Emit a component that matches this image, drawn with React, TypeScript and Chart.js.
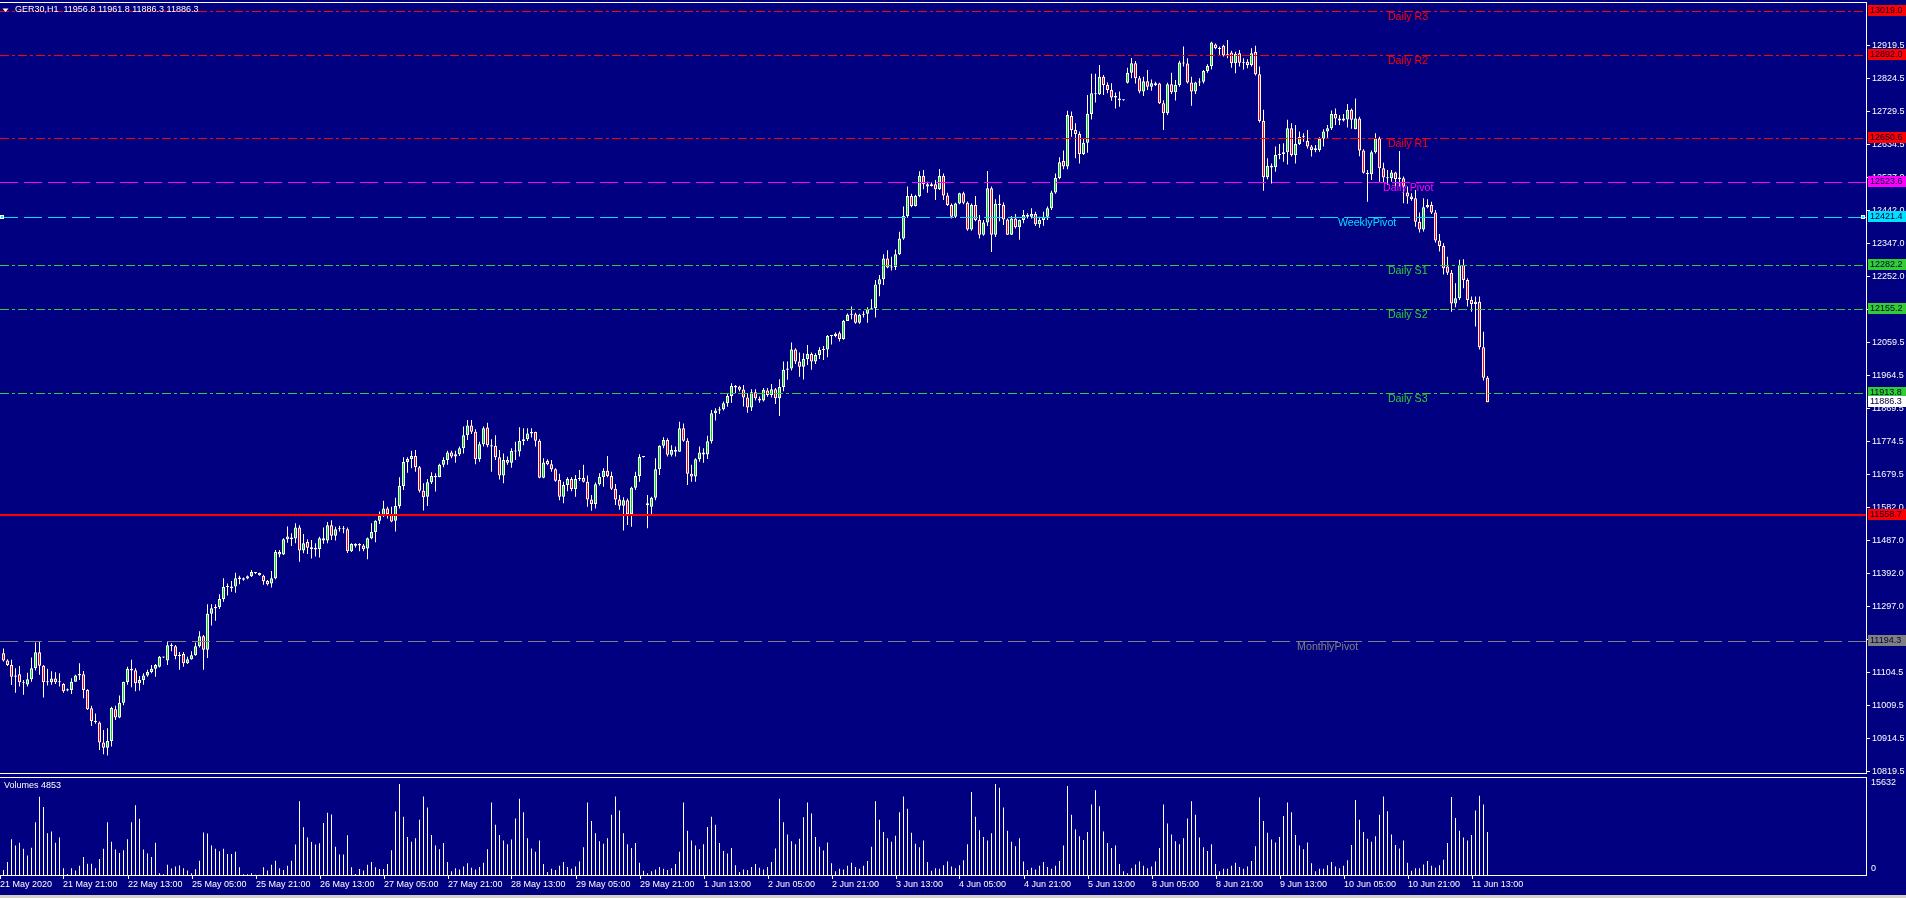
import React, { useEffect, useRef } from "react";
import { Chart, registerables } from "chart.js";

Chart.register(...registerables);

const titleText = "GER30,H1  11956.8 11961.8 11886.3 11886.3";
const volumeTitle = "Volumes 4853";
const volumeMaxLabel = "15632";

const opens: number[] = [
  11160,11139,11126,11092,11099,11076,11070,11085,11117,11163,
  11124,11076,11076,11087,11076,11071,11052,11054,11078,11096,
  11099,11054,11001,10964,10960,10902,10887,10906,10998,10974,
  11017,11077,11115,11111,11073,11083,11096,11106,11115,11121,
  11150,11139,11183,11180,11152,11158,11131,11143,11154,11180,
  11209,11170,11274,11290,11294,11317,11352,11348,11353,11375,
  11373,11376,11383,11395,11392,11384,11369,11362,11377,11453,
  11446,11490,11495,11492,11524,11457,11482,11467,11465,11462,
  11486,11486,11530,11500,11519,11519,11519,11455,11471,11476,
  11472,11463,11493,11511,11543,11558,11579,11563,11543,11586,
  11644,11713,11722,11731,11698,11630,11613,11655,11673,11670,
  11705,11719,11741,11729,11736,11753,11791,11819,11801,11721,
  11765,11813,11762,11760,11727,11674,11719,11711,11745,11744,
  11774,11779,11796,11800,11775,11668,11716,11707,11692,11661,
  11613,11647,11664,11635,11664,11667,11656,11605,11592,11649,
  11670,11688,11673,11636,11605,11587,11603,11562,11639,11673,
  11728,11594,11584,11610,11692,11760,11777,11734,11748,11743,
  11811,11775,11679,11671,11721,11741,11735,11773,11854,11862,
  11866,11883,11904,11933,11931,11923,11900,11871,11915,11896,
  11891,11920,11907,11924,11898,11930,11980,11984,12039,12004,
  11989,12011,12026,12004,12023,12037,12039,12078,12078,12086,
  12069,12121,12139,12141,12116,12139,12142,12155,12158,12227,
  12242,12302,12276,12277,12314,12360,12425,12483,12454,12483,
  12541,12517,12512,12517,12502,12541,12484,12457,12423,12461,
  12491,12463,12386,12457,12413,12371,12406,12505,12371,12460,
  12457,12415,12371,12418,12392,12413,12428,12423,12431,12401,
  12413,12423,12447,12493,12535,12584,12568,12714,12674,12662,
  12604,12637,12720,12780,12777,12828,12804,12789,12768,12765,
  12760,12810,12839,12867,12823,12785,12815,12799,12809,12808,
  12751,12722,12806,12783,12804,12869,12866,12811,12785,12811,
  12813,12844,12859,12921,12910,12917,12889,12898,12867,12896,
  12868,12871,12862,12899,12835,12700,12537,12570,12566,12601,
  12604,12609,12679,12601,12633,12654,12642,12626,12616,12616,
  12648,12669,12679,12720,12707,12701,12704,12732,12676,12707,
  12614,12550,12546,12609,12650,12563,12536,12534,12551,12532,
  12534,12493,12481,12476,12408,12386,12450,12457,12435,12354,
  12338,12279,12261,12172,12187,12283,12240,12182,12170,12177,
  12045,11956.8,
];

const highs: number[] = [
  11174,11143,11141,11117,11123,11083,11104,11148,11191,11194,
  11126,11115,11108,11105,11102,11073,11058,11088,11098,11131,
  11109,11056,11008,10986,10963,10938,10943,11005,11008,11038,
  11078,11121,11141,11117,11094,11102,11112,11126,11129,11152,
  11150,11194,11189,11184,11164,11164,11150,11166,11191,11224,
  11213,11302,11302,11302,11331,11377,11362,11369,11393,11384,
  11379,11385,11401,11395,11393,11387,11372,11398,11459,11459,
  11493,11527,11507,11536,11530,11505,11490,11488,11478,11497,
  11524,11540,11545,11526,11529,11528,11524,11478,11478,11478,
  11476,11495,11536,11545,11570,11601,11584,11584,11610,11669,
  11727,11727,11746,11748,11702,11652,11664,11684,11681,11708,
  11727,11746,11746,11746,11758,11816,11835,11835,11808,11772,
  11816,11827,11779,11791,11748,11738,11729,11753,11772,11814,
  11811,11811,11811,11801,11779,11724,11721,11719,11695,11679,
  11656,11669,11669,11676,11690,11705,11674,11618,11654,11681,
  11695,11731,11685,11650,11618,11611,11608,11642,11685,11736,
  11730,11618,11613,11724,11762,11785,11782,11762,11758,11830,
  11825,11782,11705,11724,11758,11753,11789,11864,11869,11873,
  11888,11910,11941,11936,11934,11936,11912,11924,11924,11903,
  11927,11927,11939,11927,11953,12004,12004,12059,12042,12030,
  12028,12052,12030,12028,12045,12049,12081,12081,12088,12091,
  12124,12143,12163,12145,12142,12149,12161,12184,12240,12254,
  12314,12326,12307,12328,12379,12452,12510,12489,12486,12554,
  12558,12524,12522,12529,12561,12548,12492,12461,12463,12492,
  12495,12467,12461,12483,12428,12413,12555,12510,12473,12486,
  12464,12418,12425,12431,12415,12442,12433,12447,12437,12423,
  12437,12452,12498,12548,12595,12614,12729,12727,12693,12669,
  12650,12775,12836,12836,12862,12833,12811,12809,12782,12785,
  12762,12854,12882,12873,12830,12828,12847,12820,12813,12810,
  12760,12810,12839,12818,12874,12915,12881,12828,12813,12823,
  12847,12864,12929,12924,12915,12920,12934,12903,12900,12905,
  12881,12878,12910,12917,12857,12732,12592,12577,12626,12633,
  12635,12703,12693,12688,12669,12664,12674,12630,12630,12653,
  12676,12688,12730,12736,12717,12720,12749,12736,12765,12712,
  12618,12558,12614,12664,12654,12579,12558,12558,12553,12613,
  12539,12510,12491,12500,12435,12476,12473,12466,12442,12373,
  12346,12307,12269,12230,12298,12300,12245,12192,12192,12192,
  12090,11961.8,
];

const lows: number[] = [
  11136,11123,11068,11046,11064,11040,11064,11078,11110,11098,
  11032,11067,11069,11071,11064,11046,11050,11042,11078,11083,
  11030,10996,10950,10956,10880,10868,10864,10890,10967,10972,
  11010,11069,11062,11050,11052,11069,11092,11102,11092,11119,
  11146,11126,11166,11143,11112,11121,11129,11141,11153,11177,
  11112,11146,11240,11254,11288,11309,11327,11338,11335,11360,
  11370,11374,11381,11389,11384,11358,11356,11350,11374,11438,
  11444,11480,11470,11478,11425,11449,11447,11434,11440,11437,
  11477,11478,11488,11486,11512,11507,11450,11453,11466,11455,
  11455,11432,11490,11481,11534,11554,11550,11539,11512,11579,
  11632,11682,11695,11685,11625,11573,11586,11650,11628,11669,
  11698,11705,11724,11711,11731,11738,11777,11794,11707,11714,
  11758,11756,11685,11719,11663,11652,11705,11697,11719,11729,
  11762,11774,11784,11758,11666,11666,11704,11685,11656,11603,
  11594,11629,11629,11613,11658,11654,11584,11572,11579,11645,
  11642,11669,11632,11589,11575,11515,11531,11526,11632,11656,
  11726,11522,11562,11603,11676,11753,11729,11729,11729,11743,
  11772,11647,11656,11656,11714,11711,11722,11767,11833,11852,
  11862,11873,11885,11912,11917,11874,11856,11861,11891,11885,
  11888,11902,11900,11881,11846,11918,11951,11978,11997,11960,
  11952,11994,11980,11997,12011,12008,12016,12053,12074,12062,
  12067,12121,12126,12113,12113,12131,12116,12153,12131,12193,
  12225,12274,12267,12269,12312,12356,12420,12450,12452,12479,
  12502,12492,12510,12471,12500,12471,12454,12418,12419,12459,
  12459,12382,12382,12410,12360,12368,12396,12321,12364,12410,
  12399,12370,12370,12389,12356,12404,12418,12418,12396,12391,
  12397,12413,12442,12489,12531,12560,12560,12654,12592,12577,
  12601,12608,12704,12753,12775,12775,12780,12758,12736,12741,
  12758,12808,12823,12808,12780,12772,12789,12787,12801,12749,
  12674,12717,12778,12759,12799,12857,12808,12744,12778,12801,
  12808,12839,12849,12907,12891,12886,12881,12854,12838,12857,
  12849,12852,12857,12831,12695,12498,12531,12519,12553,12589,
  12582,12574,12597,12577,12630,12640,12620,12597,12609,12611,
  12626,12651,12674,12688,12688,12698,12681,12677,12676,12598,
  12548,12466,12529,12606,12524,12521,12515,12524,12510,12510,
  12462,12460,12469,12394,12377,12380,12447,12431,12348,12322,
  12256,12254,12148,12161,12182,12216,12163,12148,12105,12039,
  11949,11886.3,
];

const closes: number[] = [
  11139,11126,11092,11096,11076,11073,11085,11117,11163,11124,
  11076,11078,11087,11076,11077,11050,11056,11078,11096,11100,
  11054,10998,10964,10961,10902,10887,10906,11002,10974,11017,
  11077,11115,11110,11073,11083,11096,11106,11115,11126,11150,
  11148,11183,11181,11152,11156,11131,11143,11154,11180,11209,
  11170,11274,11290,11294,11317,11352,11352,11353,11377,11379,
  11377,11383,11395,11392,11386,11368,11360,11377,11453,11446,
  11490,11498,11490,11524,11457,11478,11465,11462,11460,11493,
  11493,11530,11500,11519,11519,11519,11455,11476,11476,11472,
  11461,11493,11511,11543,11558,11579,11563,11541,11586,11644,
  11713,11722,11731,11698,11630,11611,11655,11673,11669,11705,
  11719,11741,11729,11736,11753,11791,11819,11801,11721,11765,
  11811,11762,11758,11727,11674,11719,11711,11745,11744,11774,
  11779,11796,11800,11775,11668,11712,11707,11692,11659,11613,
  11647,11664,11635,11664,11667,11656,11605,11592,11649,11670,
  11688,11673,11636,11605,11587,11603,11562,11639,11673,11728,
  11728,11588,11610,11692,11760,11777,11734,11748,11743,11811,
  11775,11679,11671,11721,11741,11735,11773,11854,11862,11866,
  11883,11904,11933,11929,11922,11900,11871,11915,11898,11891,
  11922,11907,11924,11898,11930,11980,11984,12039,12004,11989,
  12011,12026,12004,12023,12037,12039,12078,12080,12084,12069,
  12121,12139,12141,12116,12139,12142,12155,12158,12227,12242,
  12302,12276,12279,12314,12360,12425,12483,12454,12483,12541,
  12517,12510,12517,12502,12541,12484,12457,12423,12461,12491,
  12463,12386,12457,12413,12371,12406,12505,12371,12460,12457,
  12415,12371,12418,12392,12413,12428,12423,12431,12401,12413,
  12423,12447,12493,12535,12580,12568,12717,12674,12662,12604,
  12637,12720,12780,12777,12828,12804,12789,12768,12772,12760,
  12760,12839,12867,12823,12785,12815,12799,12809,12804,12751,
  12722,12806,12783,12804,12869,12866,12811,12785,12811,12813,
  12844,12859,12927,12910,12908,12889,12893,12867,12894,12868,
  12871,12862,12896,12835,12700,12537,12570,12565,12601,12604,
  12609,12679,12601,12633,12654,12656,12626,12616,12621,12648,
  12669,12679,12720,12707,12701,12707,12732,12703,12707,12614,
  12550,12546,12609,12650,12563,12536,12534,12551,12532,12536,
  12510,12481,12474,12408,12386,12450,12457,12435,12354,12338,
  12274,12261,12172,12187,12283,12240,12182,12170,12177,12045,
  11957,11886.3,
];

const volumes: number[] = [
  831,2105,5817,4820,5263,4266,3158,4432,8587,12742,
  11080,6814,7091,5263,6094,1108,166,1108,720,1496,
  2936,1828,1828,1108,2604,4266,8587,5429,4155,3601,
  4044,5817,8587,11357,9141,4155,3490,2936,5263,277,
  120,1662,1053,1385,1551,1108,720,277,942,2327,
  6925,6759,4820,4266,3878,4266,3435,3435,3767,1274,
  111,111,277,60,60,1274,720,1662,2327,1108,
  831,1496,2327,4986,12022,7756,6094,5374,4986,5152,
  8476,10138,9861,4598,3324,3324,6482,1274,166,997,
  720,1662,2105,1274,997,997,1773,4044,10360,14800,
  9500,6200,5400,6000,9000,12800,11000,6500,4800,4200,
  5200,2100,600,1100,
  900,1400,1900,1200,900,1300,2000,4200,11800,8200,
  6500,5600,5000,5800,9200,12400,10200,6000,4300,3800,
  5600,1800,500,1000,
  800,1500,2100,1300,1000,1400,2200,4500,11800,8800,
  6800,5500,5100,6000,9800,12800,10500,6800,5000,4400,
  5200,2000,700,300,
  600,900,1300,1000,800,1100,1800,3800,11800,7200,
  5600,4800,4200,5000,7800,9500,8200,5200,3900,3500,
  4400,1600,500,900,
  800,1300,1800,1200,900,1300,2100,4300,12400,8600,
  6600,5500,5000,5900,9400,11800,10000,6200,4600,4000,
  5300,1900,600,1000,
  900,1500,2000,1300,1000,1500,2300,4600,12000,9000,
  7000,6000,5400,6400,10200,12800,10800,6900,5100,4500,
  5600,2100,700,1100,
  1000,1600,2200,1400,1100,1600,2400,5000,13500,9500,
  7300,6200,5600,6800,14800,14200,11000,7200,5400,4700,
  6000,2200,800,1200,
  900,1500,2100,1300,1000,1500,2300,4800,14500,9800,
  7400,6300,5700,7000,11500,13800,11200,7100,5200,4400,
  4800,1800,600,300,
  1100,1700,2200,1500,1100,1400,2200,4400,11500,8400,
  6600,5500,5000,6000,9200,12000,9800,6100,4500,3900,
  5000,1800,600,1000,
  1000,1500,2000,1300,1000,1400,2300,4700,12600,8800,
  6900,5800,5300,6200,9600,11800,10200,6500,4800,4200,
  5300,1900,600,1000,
  1000,1600,2100,1400,1100,1500,2400,4900,12200,9000,
  7000,5900,5400,6300,9800,12800,10400,6600,4900,4300,
  5600,2000,700,1100,
  1100,1700,2300,1500,1200,1600,2500,5200,12700,9300,
  7200,6100,5600,6500,10500,12900,11500,7000,
];

const timeLabels: string[] = [
  "21 May 2020", "21 May 21:00", "22 May 13:00", "25 May 05:00", "25 May 21:00",
  "26 May 13:00", "27 May 05:00", "27 May 21:00", "28 May 13:00", "29 May 05:00",
  "29 May 21:00", "1 Jun 13:00", "2 Jun 05:00", "2 Jun 21:00", "3 Jun 13:00",
  "4 Jun 05:00", "4 Jun 21:00", "5 Jun 13:00", "8 Jun 05:00", "8 Jun 21:00",
  "9 Jun 13:00", "10 Jun 05:00", "10 Jun 21:00", "11 Jun 13:00",
];
const timeLabelBars: number[] = [
  -1, 15, 31, 47, 63, 79, 95, 111, 127, 143, 159, 175, 191, 207, 223, 239,
  255, 271, 287, 303, 319, 335, 351, 367,
];

const priceTicks: number[] = [
  12919.5, 12824.5, 12729.5, 12634.5, 12537.0, 12442.0, 12347.0, 12252.0,
  12157.0, 12059.5, 11964.5, 11869.5, 11774.5, 11679.5, 11582.0, 11487.0,
  11392.0, 11297.0, 11202.0, 11104.5, 11009.5, 10914.5, 10819.5,
];

const levelNames: string[] = [
  "Daily R3", "Daily R2", "Daily R1", "Daily Pivot", "WeeklyPivot",
  "Daily S1", "Daily S2", "Daily S3", "", "MonthlyPivot",
];
const levelValues: number[] = [
  13019.0, 12892.0, 12650.6, 12523.6, 12421.4, 12282.2, 12155.2, 11913.8, 11558.7, 11194.3,
];
const levelColors: string[] = [
  "#ff0000", "#ff0000", "#ff0000", "#ff00ff", "#00e0ff",
  "#32cd32", "#32cd32", "#32cd32", "#ff0000", "#808080",
];
const levelStyles: string[] = [
  "dashdot", "dashdot", "dashdot", "dash", "dash",
  "dashdot", "dashdot", "dashdot", "solid", "dash",
];
const levelWidths: number[] = [1, 1, 1, 1, 1, 1, 1, 1, 2, 1];
const levelLabelBars: (number | null)[] = [
  346.1, 346.1, 346.1, 344.9, 333.6, 346.1, 346.1, 346.1, null, 323.4,
];
const lastPrice = 11886.3;

const BG = "#000080";
const BULL = "#00e000";
const BEAR = "#ff0000";
const UI_FONT = '9px "Liberation Sans", Arial, sans-serif';
const OBJ_FONT = '10.67px "Liberation Sans", Arial, sans-serif';
const BOX_TEXT = "#000040";

const X_MIN = -0.875;
const X_MAX = 465.625;

function dashFor(s: string): number[] {
  if (s === "dashdot") return [9, 3, 3, 3];
  if (s === "dash") return [18, 6];
  return [];
}

const mainOverlay = {
  id: "mainOverlay",
  afterDatasetsDraw(chart: any) {
    const { ctx, chartArea, scales } = chart;
    const xs = scales.x;
    const ys = scales.y;
    const L = chartArea.left;
    const R = chartArea.right;
    ctx.save();

    levelValues.forEach((v, k) => {
      const py = ys.getPixelForValue(v);
      ctx.strokeStyle = levelColors[k];
      ctx.lineWidth = levelWidths[k];
      ctx.setLineDash(dashFor(levelStyles[k]));
      const yy = levelWidths[k] === 1 ? Math.round(py) + 0.5 : Math.round(py);
      ctx.beginPath();
      ctx.moveTo(L, yy);
      ctx.lineTo(R, yy);
      ctx.stroke();
    });
    ctx.setLineDash([]);

    const wpY = Math.round(ys.getPixelForValue(levelValues[4]));
    ctx.fillStyle = "#ffffff";
    ctx.fillRect(L, wpY - 2, 4, 4);
    ctx.fillRect(R - 5, wpY - 2, 4, 4);
    ctx.fillStyle = levelColors[4];
    ctx.fillRect(L + 1, wpY - 1, 2, 2);
    ctx.fillRect(R - 4, wpY - 1, 2, 2);

    ctx.font = OBJ_FONT;
    ctx.textAlign = "left";
    ctx.textBaseline = "top";
    levelNames.forEach((name, k) => {
      const b = levelLabelBars[k];
      if (!name || b === null) return;
      const px = xs.getPixelForValue(b);
      const py = Math.round(ys.getPixelForValue(levelValues[k]));
      ctx.fillStyle = levelColors[k];
      ctx.fillText(name, px, py + 1);
    });

    ctx.fillStyle = "#ffffff";
    ctx.fillRect(L, chartArea.top - 1, R - L + 1, 1);
    ctx.fillRect(L, chartArea.bottom, R - L + 1, 1);
    ctx.fillRect(R, chartArea.top - 1, 1, chartArea.bottom - chartArea.top + 2);

    ctx.font = UI_FONT;
    ctx.textBaseline = "middle";
    ctx.strokeStyle = "#ffffff";
    ctx.lineWidth = 1;
    priceTicks.forEach((v) => {
      const py = Math.round(ys.getPixelForValue(v)) + 0.5;
      ctx.beginPath();
      ctx.moveTo(R, py);
      ctx.lineTo(R + 4, py);
      ctx.stroke();
      ctx.fillStyle = "#ffffff";
      ctx.fillText(v.toFixed(1), R + 6, py);
    });

    const drawBox = (v: number, bg: string) => {
      const py = Math.round(ys.getPixelForValue(v));
      ctx.fillStyle = bg;
      ctx.fillRect(R + 2, py - 6, 40, 11);
      ctx.fillStyle = BOX_TEXT;
      ctx.fillText(v.toFixed(1), R + 4, py);
    };
    levelValues.forEach((v, k) => drawBox(v, levelColors[k]));
    drawBox(lastPrice, "#ffffff");

    ctx.fillStyle = "#ffffff";
    ctx.beginPath();
    ctx.moveTo(2.5, 8.5);
    ctx.lineTo(8.5, 8.5);
    ctx.lineTo(5.5, 12);
    ctx.closePath();
    ctx.fill();
    ctx.font = UI_FONT;
    ctx.textBaseline = "middle";
    ctx.fillText(titleText, 15, 10);

    ctx.restore();
  },
};

const volumeOverlay = {
  id: "volumeOverlay",
  afterDatasetsDraw(chart: any) {
    const { ctx, chartArea, scales } = chart;
    const xs = scales.x;
    const L = chartArea.left;
    const R = chartArea.right;
    ctx.save();
    ctx.fillStyle = "#ffffff";
    ctx.fillRect(L, chartArea.top, R - L + 1, 1);
    ctx.fillRect(L, chartArea.bottom, R - L + 1, 1);
    ctx.fillRect(R, chartArea.top, 1, chartArea.bottom - chartArea.top + 1);

    ctx.font = UI_FONT;
    ctx.textAlign = "left";
    ctx.textBaseline = "middle";
    ctx.fillText(volumeTitle, 4, chartArea.top + 9);
    ctx.fillText(volumeMaxLabel, R + 5, chartArea.top + 6);
    ctx.fillText("0", R + 5, chartArea.bottom - 6);

    timeLabels.forEach((t, k) => {
      const px = Math.round(xs.getPixelForValue(timeLabelBars[k]));
      ctx.fillRect(Math.max(px, 0), chartArea.bottom, 1, 4);
      ctx.fillText(t, Math.max(px, 0), chartArea.bottom + 10);
    });

    ctx.fillStyle = "#d4d0c8";
    ctx.fillRect(0, chart.height - 3, chart.width, 3);
    ctx.restore();
  },
};

export default function App() {
  const mainRef = useRef<HTMLCanvasElement>(null);
  const volRef = useRef<HTMLCanvasElement>(null);

  useEffect(() => {
    const idx = opens.map((_, i) => i);
    const main = new Chart(mainRef.current as HTMLCanvasElement, {
      type: "bar",
      data: {
        datasets: [
          {
            label: "wicks",
            data: idx.map((i) => ({ x: i, y: [lows[i], highs[i]] })) as any,
            backgroundColor: "#ffffff",
            borderWidth: 0,
            barThickness: 1,
            grouped: false,
            inflateAmount: 0,
            order: 2,
          } as any,
          {
            label: "bodies",
            data: idx.map((i) => ({ x: i, y: [opens[i], closes[i]] })) as any,
            backgroundColor: idx.map((i) => (closes[i] >= opens[i] ? BULL : BEAR)),
            borderColor: "#ffffff",
            borderWidth: 1,
            borderSkipped: false,
            barThickness: 3,
            minBarLength: 1,
            grouped: false,
            inflateAmount: 0,
            order: 1,
          } as any,
        ],
      },
      options: {
        responsive: false,
        animation: false,
        devicePixelRatio: 1,
        events: [],
        layout: { padding: { left: 0, right: 40, top: 3, bottom: 3 } },
        scales: {
          x: { type: "linear", min: X_MIN, max: X_MAX, display: false, offset: false },
          y: { type: "linear", min: 10813.7, max: 13041.0, display: false, beginAtZero: false, bounds: "data" },
        },
        plugins: { legend: { display: false }, tooltip: { enabled: false } },
      } as any,
      plugins: [mainOverlay],
    });

    const vol = new Chart(volRef.current as HTMLCanvasElement, {
      type: "bar",
      data: {
        datasets: [
          {
            label: "volume",
            data: volumes.map((v, i) => ({ x: i, y: v })) as any,
            backgroundColor: "#ffffff",
            borderWidth: 0,
            barThickness: 1,
            grouped: false,
            inflateAmount: 0,
          } as any,
        ],
      },
      options: {
        responsive: false,
        animation: false,
        devicePixelRatio: 1,
        events: [],
        layout: { padding: { left: 0, right: 40, top: 1, bottom: 23 } },
        scales: {
          x: { type: "linear", min: X_MIN, max: X_MAX, display: false, offset: false },
          y: { type: "linear", min: 0, max: 15958, display: false, bounds: "data" },
        },
        plugins: { legend: { display: false }, tooltip: { enabled: false } },
      } as any,
      plugins: [volumeOverlay],
    });

    return () => {
      main.destroy();
      vol.destroy();
    };
  }, []);

  return (
    <div
      style={{
        position: "absolute",
        left: 0,
        top: 0,
        width: 1906,
        height: 898,
        background: BG,
        overflow: "hidden",
      }}
    >
      <canvas
        ref={mainRef}
        width={1906}
        height={776}
        style={{ position: "absolute", left: 0, top: 0, width: 1906, height: 776 }}
      />
      <canvas
        ref={volRef}
        width={1906}
        height={122}
        style={{ position: "absolute", left: 0, top: 776, width: 1906, height: 122 }}
      />
    </div>
  );
}
